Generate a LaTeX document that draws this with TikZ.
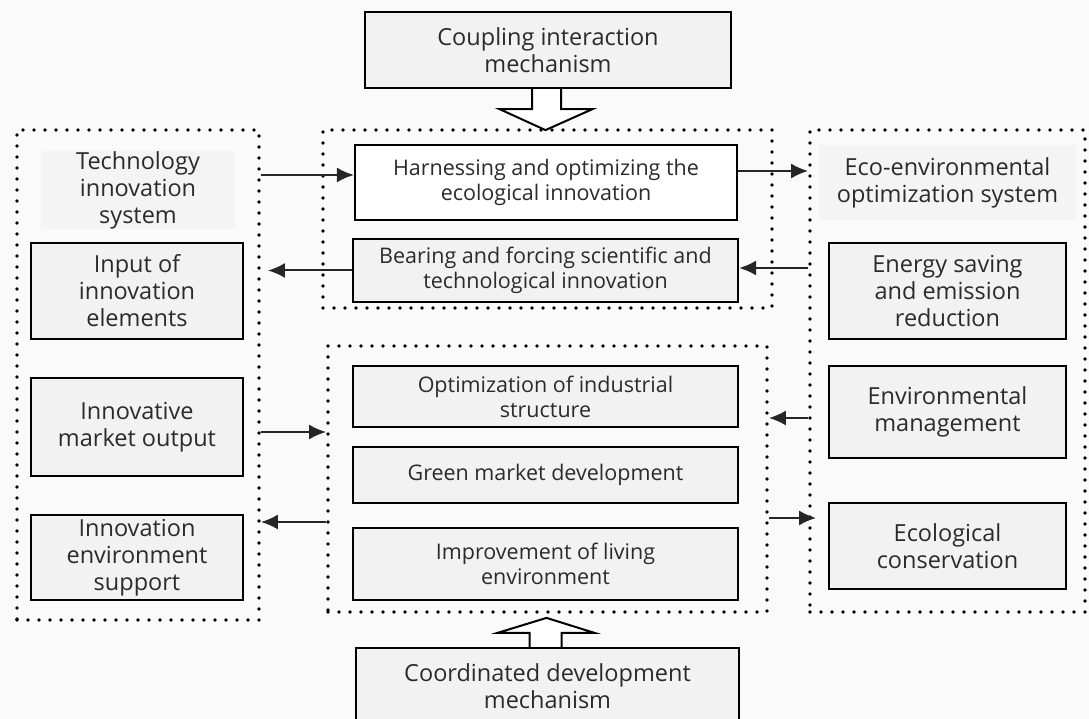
\documentclass[tikz,border=0pt]{standalone}
\usepackage{fontspec}
\setmainfont{Open Sans}
\usetikzlibrary{calc,arrows.meta}
\definecolor{boxgray}{HTML}{F2F2F2}
\definecolor{bggray}{HTML}{FAFAFA}
\definecolor{txtgray}{HTML}{2B2B2B}
\tikzset{>=Stealth,
  box/.style={draw=black,line width=2.2pt,fill=boxgray,align=center,inner sep=0pt,text=txtgray},
  plain/.style={fill=boxgray!80!bggray,align=center,inner sep=0pt,text=txtgray},
  small/.style={font=\fontsize{21.5}{25}\selectfont},
  large/.style={font=\fontsize{23.5}{27}\selectfont},
  frame/.style={draw=black,line width=3.8pt,dash pattern=on 0pt off 11pt,line cap=round,inner sep=0pt},
  link/.style={line width=2pt,draw=black!85,-{Latex[length=17pt,width=15pt]}},
  hollow/.style={draw=black,line width=2pt,fill=white,line join=miter}
}
\begin{document}
\begin{tikzpicture}[x=1pt,y=-1pt]
\path[use as bounding box,fill=bggray] (0,0) rectangle (1089,719);
\clip (0,0) rectangle (1089,719);
\node[frame,minimum width=242,minimum height=490] (ldot) at (138,375) {};
\node[frame,minimum width=449,minimum height=178] (mtop) at (547.5,219) {};
\node[frame,minimum width=439,minimum height=266] (mbot) at (547.5,479) {};
\node[frame,minimum width=275,minimum height=482] (rdot) at (947.5,371) {};
\node[box,large,minimum width=366,minimum height=76] (cim) at (548,50) {Coupling interaction\\mechanism};
\node[plain,large,minimum width=194,minimum height=76] (tis) at (138,190) {Technology\\innovation\\system};
\node[box,large,minimum width=212,minimum height=96] (iie) at (137,291) {Input of\\innovation\\elements};
\node[box,large,minimum width=212,minimum height=98] (imo) at (137,427) {Innovative\\market output};
\node[box,large,minimum width=212,minimum height=85] (ies) at (137,557.5) {Innovation\\environment\\support};
\node[box,small,fill=white,minimum width=382,minimum height=75] (hio) at (546,182.5) {Harnessing and optimizing the\\ecological innovation};
\node[box,small,minimum width=385,minimum height=63] (bfs) at (545.5,270.5) {Bearing and forcing scientific and\\technological innovation};
\node[box,small,minimum width=385,minimum height=61] (ois) at (545.5,396.5) {Optimization of industrial\\structure};
\node[box,small,minimum width=385,minimum height=56] (gmd) at (545.5,475) {Green market development};
\node[box,small,minimum width=385,minimum height=72] (ile) at (545.5,564) {Improvement of living\\environment};
\node[box,large,minimum width=383,minimum height=76] (cdm) at (547.5,686) {Coordinated development\\mechanism};
\node[plain,large,minimum width=257,minimum height=75] (eos) at (947.5,182.5) {Eco-environmental\\optimization system};
\node[box,large,minimum width=237,minimum height=96] (ese) at (947.5,291) {Energy saving\\and emission\\reduction};
\node[box,large,minimum width=237,minimum height=92] (emg) at (947.5,412) {Environmental\\management};
\node[box,large,minimum width=237,minimum height=86] (eco) at (947.5,546) {Ecological\\conservation};
\draw[link] ($(hio.west -| ldot.east)+(0,-7.5)$) -- ($(hio.west)+(0,-7.5)$);
\draw[link] ($(hio.east)+(0,-11.5)$) -- ($(hio.east -| rdot.west)+(0,-11.5)$);
\draw[link] ($(bfs.east -| rdot.west)+(0,-2.5)$) -- ($(bfs.east)+(0,-2.5)$);
\draw[link] (bfs.west) -- ($(bfs.west -| ldot.east)+(7,0)$);
\draw[link] ($(mbot.west -| ldot.east)+(0,-47)$) -- ($(mbot.west)+(0,-47)$);
\draw[link] ($(mbot.west)+(0,43)$) -- ($(mbot.west -| ldot.east)+(0,43)$);
\draw[link] ($(mbot.east -| rdot.west)+(0,-61)$) -- ($(mbot.east)+(0,-61)$);
\draw[link] ($(mbot.east)+(0,39)$) -- ($(mbot.east -| rdot.west)+(8,39)$);
\draw[hollow] ($(cim.south)+(-16,0)$) |- ($(mtop.north)+(-48,-19)$) -- ($(mtop.north)+(-2,2)$) -- ($(mtop.north)+(45,-19)$) -| ($(cim.south)+(13,0)$);
\draw[hollow] ($(cdm.north)+(-18,0)$) |- ($(mbot.south)+(-50,19)$) -- ($(mbot.south)+(-1,4)$) -- ($(mbot.south)+(47,19)$) -| ($(cdm.north)+(14,0)$);
\end{tikzpicture}
\end{document}
